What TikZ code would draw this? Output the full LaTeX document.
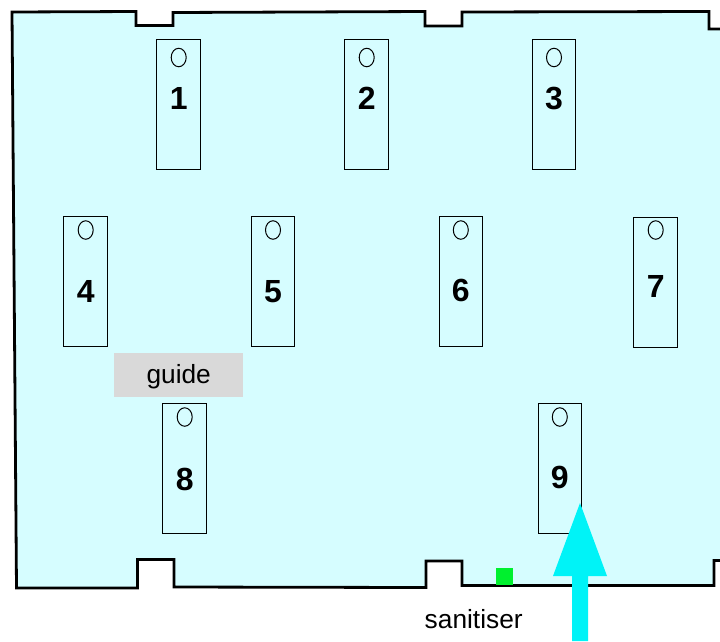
\documentclass[tikz,border=0pt]{standalone}
\usepackage{fontspec}
\setmainfont{Liberation Sans}
\definecolor{floor}{HTML}{D6FDFF}
\definecolor{flow}{HTML}{00F3F7}
\definecolor{guidegrey}{HTML}{D9D9D9}
\definecolor{sangreen}{HTML}{00F02E}
\tikzset{
  wall/.style={draw=black,line width=2.8pt,line join=miter},
  card/.style={draw=black,line width=1pt,minimum width=43.5pt,minimum height=129.5pt,inner sep=0pt,outer sep=0pt},
  hole/.style={draw=black,line width=1pt,ellipse,minimum width=15pt,minimum height=18.5pt,inner sep=0pt},
  num/.style={font=\fontsize{32}{32}\selectfont\bfseries,inner sep=0pt},
  lab/.style={font=\fontsize{26.3}{28}\selectfont,inner sep=0pt},
}
\usetikzlibrary{shapes.geometric}
\begin{document}
\begin{tikzpicture}[x=1pt,y=-1pt]
\useasboundingbox (0,0) rectangle (720,641);
\fill[white] (0,0) rectangle (720,641);
\fill[floor] (12,12) -- (136,11.5) -- (136,25.5) -- (173,25.5) -- (173,12.5) -- (425,11.5) -- (425,26) -- (462,26) -- (462,12) -- (709,11.5) -- (709,29) -- (720,29) -- (720,560.5) -- (714,560.5) -- (714,585.5) -- (462,585.5) -- (462,561) -- (426,561) -- (426,587.5) -- (174,587) -- (174,559.5) -- (137.5,559.5) -- (137.5,588) -- (16.5,588) -- cycle;
\draw[wall] (720,29) -- (709,29) -- (709,11.5) -- (462,12) -- (462,26) -- (425,26) -- (425,11.5) -- (173,12.5) -- (173,25.5) -- (136,25.5) -- (136,11.5) -- (12,12) -- (16.5,588) -- (137.5,588) -- (137.5,559.5) -- (174,559.5) -- (174,587) -- (426,587.5) -- (426,561) -- (462,561) -- (462,585.5) -- (714,585.5) -- (714,560.5) -- (720,560.5);
\foreach \n/\cx/\cy/\hy/\ny in {1/178.7/104.5/57.5/98,2/366.7/104.5/57.5/98,3/554/104.5/57.5/98.5,4/85.7/281.7/230/291,5/273/281.7/230/291.5,6/460.8/281.7/230/290.5,7/655.7/282.7/230/286,8/184.7/468.5/417/479,9/559.8/468.5/417/477}{
  \node[card] (card\n) at (\cx,\cy) {};
  \node[hole] (hole\n) at (\cx,\hy) {};
  \node[num] (num\n) at (\cx,\ny) {\n};
}
\node[fill=guidegrey,minimum width=129.5pt,minimum height=44pt,inner sep=0pt] (guide) at (178.7,375) {};
\node[lab] (guidetext) at (178.7,376.5) {guide};
\node[fill=sangreen,minimum width=17pt,minimum height=17pt,inner sep=0pt] (sanitiserbox) at (504.5,576.5) {};
\node[lab] (sanitisertext) at (473.7,619) {sanitiser};
\fill[flow] (572,641) -- (572,576) -- (553,576) -- (580,503) -- (607,576) -- (588,576) -- (588,641) -- cycle;
\end{tikzpicture}
\end{document}
